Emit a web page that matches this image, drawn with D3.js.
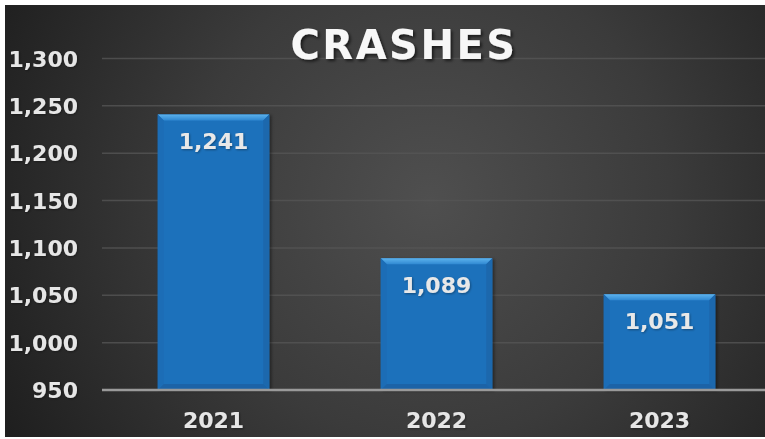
<!DOCTYPE html>
<html><head><meta charset="utf-8">
<script src="https://cdn.jsdelivr.net/npm/d3@7"></script>
<style>body{margin:0;background:#fff}svg{display:block}</style></head>
<body><svg id="c" width="765" height="439"></svg>
<script>
const categories = ["2021", "2022", "2023"];
const values = [1241, 1089, 1051];
const yTicks = [950, 1000, 1050, 1100, 1150, 1200, 1250, 1300];
const titleText = "CRASHES";

const W = 765, H = 439;
const svg = d3.select("#c");
const defs = svg.append("defs");

const bg = defs.append("radialGradient").attr("id", "bg")
  .attr("gradientUnits", "userSpaceOnUse").attr("cx", 430).attr("cy", 200).attr("r", 480);
bg.append("stop").attr("offset", "0%").attr("stop-color", "#4f4f4f");
bg.append("stop").attr("offset", "50%").attr("stop-color", "#3b3b3b");
bg.append("stop").attr("offset", "100%").attr("stop-color", "#1f1f1f");

defs.append("clipPath").attr("id", "clip").append("rect")
  .attr("x", 5).attr("y", 5).attr("width", W - 5).attr("height", 432);

const sh = defs.append("filter").attr("id", "shadow").attr("x", "-10%").attr("y", "-20%").attr("width", "130%").attr("height", "150%");
sh.append("feDropShadow").attr("dx", 2).attr("dy", 2).attr("stdDeviation", 1.5).attr("flood-color", "#000").attr("flood-opacity", 0.6);
const sh2 = defs.append("filter").attr("id", "shadow2").attr("x", "-10%").attr("y", "-20%").attr("width", "130%").attr("height", "150%");
sh2.append("feDropShadow").attr("dx", 1).attr("dy", 1).attr("stdDeviation", 1).attr("flood-color", "#000").attr("flood-opacity", 0.35);
const bsh = defs.append("filter").attr("id", "barshadow").attr("x", "-10%").attr("y", "-10%").attr("width", "130%").attr("height", "130%");
bsh.append("feDropShadow").attr("dx", 2).attr("dy", 1).attr("stdDeviation", 1.5).attr("flood-color", "#000").attr("flood-opacity", 0.4);

const topG = defs.append("linearGradient").attr("id", "topbev").attr("x1", 0).attr("y1", 0).attr("x2", 0).attr("y2", 1);
topG.append("stop").attr("offset", "0%").attr("stop-color", "#5cb2ec");
topG.append("stop").attr("offset", "100%").attr("stop-color", "#2f88d2");

const g = svg.append("g").attr("clip-path", "url(#clip)");
g.append("rect").attr("x", 5).attr("y", 5).attr("width", W - 5).attr("height", 432).attr("fill", "url(#bg)");

const y = d3.scaleLinear().domain([950, 1300]).range([390, 58.5]);
const x = d3.scaleBand().domain(categories).range([102, 771]).paddingInner(0.5).paddingOuter(0.25);

// gridlines
g.selectAll("line.grid").data(yTicks.filter(t => t > 950)).join("line")
  .attr("x1", 102).attr("x2", 771)
  .attr("y1", d => y(d)).attr("y2", d => y(d))
  .attr("stroke", "#555555").attr("stroke-opacity", 0.8).attr("stroke-width", 1.5);

const font = "'DejaVu Sans', Verdana, sans-serif";

// y labels
g.selectAll("text.yl").data(yTicks).join("text")
  .attr("x", 78).attr("y", d => y(d) + 8)
  .attr("text-anchor", "end")
  .attr("font-family", font).attr("font-weight", "bold").attr("font-size", 22)
  .attr("fill", "#e6e6e6").attr("filter", "url(#shadow2)")
  .text(d => d3.format(",")(d));

// bars
const bev = 6;
const bars = g.selectAll("g.bar").data(categories).join("g").attr("class", "bar")
  .attr("filter", "url(#barshadow)");
bars.each(function(c, i) {
  const b = d3.select(this);
  const x0 = x(c), w = x.bandwidth(), y0 = y(values[i]), y1 = y(950);
  b.append("rect").attr("x", x0).attr("y", y0).attr("width", w).attr("height", y1 - y0).attr("fill", "#1f71bb");
  b.append("path").attr("d", `M${x0},${y0}L${x0 + w},${y0}L${x0 + w - bev},${y0 + bev}L${x0 + bev},${y0 + bev}Z`).attr("fill", "url(#topbev)");
  b.append("path").attr("d", `M${x0},${y0}L${x0 + bev},${y0 + bev}L${x0 + bev},${y1 - bev}L${x0},${y1}Z`).attr("fill", "#1e6db6");
  b.append("path").attr("d", `M${x0 + w},${y0}L${x0 + w - bev},${y0 + bev}L${x0 + w - bev},${y1 - bev}L${x0 + w},${y1}Z`).attr("fill", "#1b67ad");
  b.append("path").attr("d", `M${x0},${y1}L${x0 + bev},${y1 - bev}L${x0 + w - bev},${y1 - bev}L${x0 + w},${y1}Z`).attr("fill", "#1a63a7");
});

// baseline
g.append("line").attr("x1", 102).attr("x2", 771).attr("y1", y(950)).attr("y2", y(950))
  .attr("stroke", "#9a9a9a").attr("stroke-width", 2.5);

// data labels
g.selectAll("text.dl").data(categories).join("text")
  .attr("x", d => x(d) + x.bandwidth() / 2)
  .attr("y", (d, i) => y(values[i]) + 35)
  .attr("text-anchor", "middle")
  .attr("font-family", font).attr("font-weight", "bold").attr("font-size", 22)
  .attr("fill", "#e8e8e8").attr("filter", "url(#shadow2)")
  .text((d, i) => d3.format(",")(values[i]));

// x labels
g.selectAll("text.xl").data(categories).join("text")
  .attr("x", d => x(d) + x.bandwidth() / 2).attr("y", 428)
  .attr("text-anchor", "middle")
  .attr("font-family", font).attr("font-weight", "bold").attr("font-size", 22)
  .attr("fill", "#e6e6e6").attr("filter", "url(#shadow2)")
  .text(d => d);

// title
g.append("text").attr("x", 404).attr("y", 59).attr("text-anchor", "middle")
  .attr("font-family", font).attr("font-weight", "bold").attr("font-size", 40)
  .attr("letter-spacing", 2.5)
  .attr("fill", "#f7f7f7").attr("filter", "url(#shadow)")
  .text(titleText);
</script>
</body></html>
